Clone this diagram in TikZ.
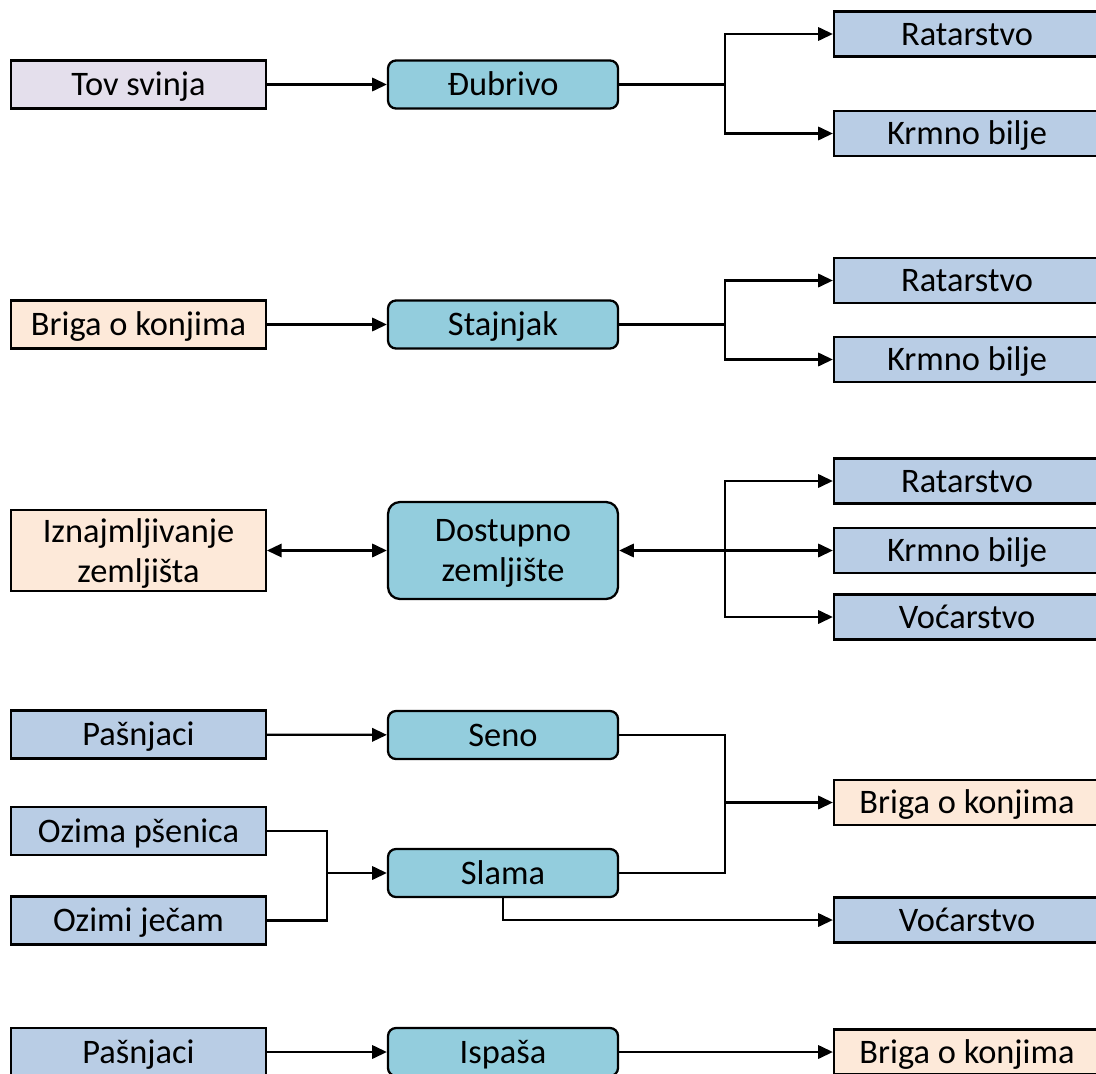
\documentclass[tikz,border=0pt]{standalone}
\usepackage{fontspec}
\setmainfont{Carlito}
\usepackage{tikz}
\usetikzlibrary{arrows.meta,positioning,calc}
\definecolor{lavender}{HTML}{E4DFEC}
\definecolor{peach}{HTML}{FDE9D9}
\definecolor{paleblue}{HTML}{B9CDE5}
\definecolor{tealbox}{HTML}{93CDDD}

\begin{document}
\begin{tikzpicture}[x=0.75pt,y=-0.75pt,line width=1.7pt,
  every node/.style={font=\fontsize{25.8}{30}\selectfont},
  box/.style={draw,minimum width=191pt,minimum height=36pt,inner sep=0pt,align=center,
    text height=16.6pt,text depth=0pt},
  twoline/.style={text height=},
  mid/.style={box,fill=tealbox,rounded corners=6pt,minimum width=172.5pt},
  outbox/.style={box,fill=paleblue,minimum width=199.5pt,minimum height=33.75pt},
  arr/.style={-{Triangle[length=11pt,width=10pt]}},
  both/.style={{Triangle[length=11pt,width=10pt]}-{Triangle[length=11pt,width=10pt]}}]
\useasboundingbox (0,0) rectangle (1096,1074);
\def\lx{138.5}
\def\mx{503}
\def\rx{967}
\def\bx{725}
\node[box,fill=lavender] (tov) at (\lx,84.5) {Tov svinja};
\node[mid] (dub) at (\mx,84.5) {Đubrivo};
\node[outbox] (rat1) at (\rx,34) {Ratarstvo};
\node[outbox] (krm1) at (\rx,133.5) {Krmno bilje};
\coordinate (b1) at (\bx,84.5);
\draw[arr] (tov) -- (dub);
\draw (dub) -- (b1);
\foreach \t in {rat1,krm1} {
  \draw[arr] (b1) |- (\t);
}

\node[box,fill=peach] (bri2) at (\lx,324.5) {Briga o konjima};
\node[mid] (sta) at (\mx,324.5) {Stajnjak};
\node[outbox] (rat2) at (\rx,280.5) {Ratarstvo};
\node[outbox] (krm2) at (\rx,359.5) {Krmno bilje};
\coordinate (b2) at (\bx,324.5);
\draw[arr] (bri2) -- (sta);
\draw (sta) -- (b2);
\foreach \t in {rat2,krm2} {
  \draw[arr] (b2) |- (\t);
}

\node[box,twoline,fill=peach,minimum height=60.75pt] (izn) at (\lx,550.5) {Iznajmljivanje\\zemljišta};
\node[mid,twoline,minimum height=72.75pt,rounded corners=9pt] (dos) at (\mx,550.5) {Dostupno\\zemljište};
\node[outbox] (rat3) at (\rx,481) {Ratarstvo};
\node[outbox] (krm3) at (\rx,550.5) {Krmno bilje};
\node[outbox] (voc3) at (\rx,617) {Voćarstvo};
\coordinate (b3) at (\bx,550.5);
\draw[both] (izn) -- (dos);
\draw[both] (dos) -- (krm3);
\foreach \t in {rat3,voc3} {
  \draw[arr] (b3) |- (\t);
}

\node[box,fill=paleblue] (pas4) at (\lx,734.5) {Pašnjaci};
\node[box,fill=paleblue] (ozp) at (\lx,831) {Ozima pšenica};
\node[box,fill=paleblue] (ozj) at (\lx,920.5) {Ozimi ječam};
\node[mid] (seno) at (\mx,735) {Seno};
\node[mid] (slama) at (\mx,873) {Slama};
\node[outbox,fill=peach] (bri4) at (\rx,802.5) {Briga o konjima};
\node[outbox] (voc4) at (\rx,920) {Voćarstvo};
\coordinate (m4) at (327,873);
\coordinate (b4) at (\bx,802.5);
\draw[arr] (pas4) -- (seno);
\draw (ozp) -| (m4);
\draw (ozj) -| (m4);
\draw[arr] (m4) -- (slama);
\draw (seno) -| (b4);
\draw (slama) -| (b4);
\draw[arr] (b4) -- (bri4);
\draw[arr] (slama) |- (voc4);

\node[box,fill=paleblue] (pas5) at (\lx,1052) {Pašnjaci};
\node[mid] (isp) at (\mx,1052) {Ispaša};
\node[outbox,fill=peach] (bri5) at (\rx,1052) {Briga o konjima};
\draw[arr] (pas5) -- (isp);
\draw[arr] (isp) -- (bri5);
\end{tikzpicture}
\end{document}
